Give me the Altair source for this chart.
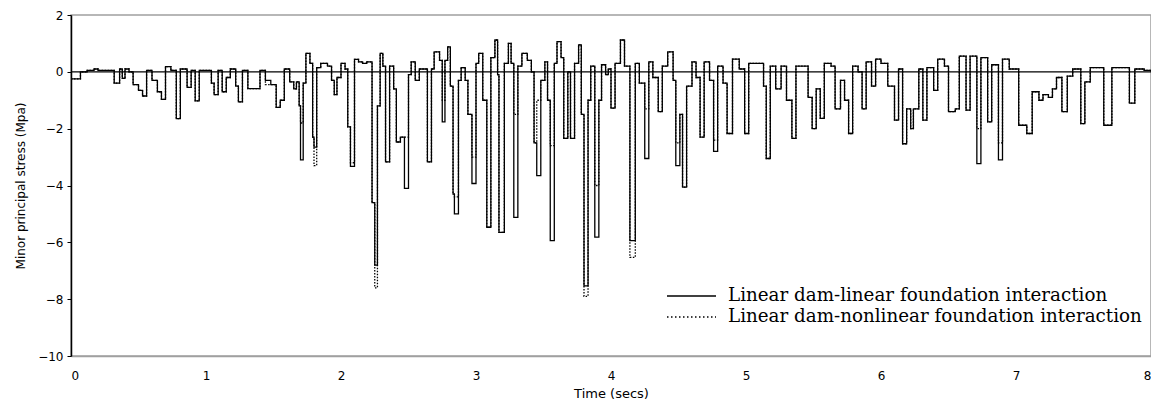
import altair as alt
import pandas as pd

# Time (s) of each step change and the linear-foundation stress (MPa)
TIME = [0.00, 0.07, 0.12, 0.17, 0.20, 0.32, 0.36, 0.38, 0.40, 0.43,
        0.46, 0.50, 0.53, 0.56, 0.60, 0.64, 0.67, 0.70, 0.74, 0.78,
        0.81, 0.86, 0.89, 0.92, 0.95, 1.04, 1.06, 1.09, 1.12, 1.15,
        1.18, 1.22, 1.24, 1.27, 1.31, 1.40, 1.44, 1.48, 1.52, 1.55,
        1.58, 1.62, 1.65, 1.67, 1.69, 1.70, 1.72, 1.74, 1.77, 1.79,
        1.80, 1.82, 1.85, 1.90, 1.93, 1.95, 1.97, 2.00, 2.03, 2.05,
        2.07, 2.10, 2.13, 2.16, 2.19, 2.23, 2.25, 2.27, 2.29, 2.31,
        2.33, 2.36, 2.39, 2.41, 2.44, 2.47, 2.50, 2.52, 2.55, 2.58,
        2.64, 2.67, 2.69, 2.73, 2.75, 2.77, 2.79, 2.81, 2.83, 2.84,
        2.87, 2.89, 2.92, 2.94, 2.97, 3.00, 3.02, 3.05, 3.08, 3.11,
        3.14, 3.16, 3.17, 3.21, 3.24, 3.26, 3.28, 3.31, 3.34, 3.38,
        3.41, 3.43, 3.45, 3.48, 3.51, 3.53, 3.55, 3.58, 3.60, 3.63,
        3.65, 3.68, 3.70, 3.73, 3.76, 3.78, 3.80, 3.83, 3.85, 3.88,
        3.91, 3.93, 3.96, 3.98, 4.00, 4.03, 4.07, 4.10, 4.14, 4.18,
        4.21, 4.25, 4.28, 4.31, 4.35, 4.38, 4.42, 4.46, 4.48, 4.51,
        4.53, 4.56, 4.60, 4.63, 4.66, 4.69, 4.73, 4.76, 4.79, 4.83,
        4.86, 4.90, 4.95, 4.99, 5.02, 5.13, 5.15, 5.18, 5.22, 5.26,
        5.30, 5.34, 5.37, 5.46, 5.49, 5.52, 5.55, 5.58, 5.63, 5.66,
        5.70, 5.73, 5.76, 5.79, 5.83, 5.86, 5.89, 5.93, 5.96, 6.00,
        6.05, 6.10, 6.13, 6.16, 6.19, 6.22, 6.24, 6.28, 6.31, 6.34,
        6.39, 6.42, 6.47, 6.50, 6.55, 6.58, 6.63, 6.66, 6.71, 6.74,
        6.79, 6.82, 6.87, 6.90, 6.95, 7.02, 7.08, 7.12, 7.17, 7.20,
        7.24, 7.27, 7.30, 7.34, 7.38, 7.42, 7.48, 7.51, 7.55, 7.65,
        7.71, 7.84, 7.88, 7.95, 8.00]

LINEAR = [-0.25, 0.00, 0.05, 0.10, 0.05, -0.40, 0.10, -0.23, 0.10, 0.00,
          -0.45, -0.65, -0.85, 0.05, -0.30, -0.70, -0.97, 0.18, 0.05, -1.65,
          0.10, -0.55, 0.05, -1.02, 0.05, -0.40, -0.80, 0.05, -0.70, -0.20,
          0.10, -0.50, -1.06, 0.05, -0.59, 0.05, -0.30, -0.45, -1.25, -1.00,
          0.10, -0.35, -0.60, -0.35, -1.20, -3.10, -0.40, 0.65, 0.30, -2.30,
          -2.65, 0.15, 0.30, 0.20, -0.30, -0.80, -0.20, 0.30, 0.10, -1.94,
          -3.33, 0.44, 0.35, 0.30, 0.35, -4.60, -6.80, -1.20, 0.65, 0.20,
          -3.17, 0.20, -0.60, -2.47, -2.30, -4.10, -0.10, 0.35, -0.30, 0.10,
          -3.17, 0.10, 0.70, 0.40, -1.76, 0.40, 0.88, -0.50, -4.30, -5.00,
          -0.30, 0.15, -0.30, -1.50, -3.93, 0.30, 0.65, -1.00, -5.47, 0.50,
          1.12, -0.10, -5.65, 0.30, 1.00, 0.30, -5.12, 0.20, 0.65, 0.40,
          0.00, -2.50, -3.65, -0.30, 0.35, -1.00, -5.94, 0.30, 1.06, 0.50,
          -2.34, 0.00, -2.34, 0.30, 0.95, -1.50, -7.53, -1.00, 0.20, -5.82,
          -1.00, 0.25, -0.10, 0.10, -1.28, 0.30, 1.12, 0.20, -5.94, 0.30,
          -0.40, -3.05, 0.35, -0.20, -1.40, 0.20, 0.70, -0.30, -3.30, -1.50,
          -4.06, -0.50, 0.35, -0.20, -2.30, 0.35, -0.30, -2.80, 0.20, -0.40,
          -2.17, 0.45, 0.10, -2.17, 0.30, -0.50, -3.05, 0.20, -0.60, 0.20,
          -1.00, -2.34, 0.20, -0.90, -2.00, -0.60, -1.64, 0.30, 0.20, -1.30,
          -0.30, -1.00, -2.17, 0.20, 0.00, -1.30, 0.35, -0.50, 0.45, 0.30,
          -0.50, -1.70, 0.10, -2.53, -1.30, -2.00, -1.30, 0.10, -1.70, 0.15,
          -0.65, 0.45, 0.20, -1.40, -1.30, 0.55, -1.35, 0.55, -3.23, 0.50,
          -1.76, 0.25, -3.10, 0.45, 0.10, -1.88, -2.17, -0.70, -1.00, -0.80,
          -0.90, -0.60, -0.20, -1.40, -0.15, 0.10, -1.82, -0.35, 0.15, -1.88,
          0.15, -1.10, 0.10, 0.05, 0.00]

# Steps where the nonlinear-foundation response differs from the linear one
NONLIN_TIME = [1.44, 1.70, 1.80, 2.07, 2.25, 2.47, 2.75, 2.84, 2.97, 3.28,
               3.45, 3.55, 3.80, 3.88, 4.14, 4.25, 4.48, 4.76, 6.71, 6.87]
NONLIN_VALUE = [-0.45, -1.80, -3.30, -3.20, -7.60, -2.30, -1.00, -4.40, -3.00, -1.50,
                -1.00, -2.60, -7.90, -4.00, -6.53, -1.30, -2.50, -2.40, -2.00, -2.50]

LEGEND_LABELS = ["Linear dam-linear foundation interaction",
                 "Linear dam-nonlinear foundation interaction"]

override = dict(zip(NONLIN_TIME, NONLIN_VALUE))
NONLINEAR = [override.get(t, v) for t, v in zip(TIME, LINEAR)]

df_lin = pd.DataFrame({"t": TIME, "v": LINEAR})
df_non = pd.DataFrame({"t": TIME, "v": NONLINEAR})

FONT = "DejaVu Sans"
W, H = 1080, 341

x_enc = alt.X("t:Q", scale=alt.Scale(domain=[0, 8], nice=False, zero=False),
              axis=alt.Axis(values=list(range(0, 9)), format="d", title="Time (secs)",
                            ticks=False, grid=False, labelFont=FONT, labelFontSize=12,
                            labelColor="black", labelPadding=14,
                            titleFont=FONT, titleFontSize=13, titleFontWeight="normal",
                            titleColor="black", titlePadding=6,
                            domainColor="#a0a0a0", domainWidth=1.5))
y_enc = alt.Y("v:Q", scale=alt.Scale(domain=[-10, 2], nice=False, zero=False),
              axis=alt.Axis(values=list(range(-10, 3, 2)), title="Minor principal stress (Mpa)",
                            grid=False, tickSize=4, tickColor="black", domainColor="black",
                            domainWidth=1.5, labelFont=FONT, labelFontSize=12,
                            labelColor="black", labelPadding=4,
                            titleFont=FONT, titleFontSize=12, titleFontWeight="normal",
                            titleColor="black", titlePadding=10))

lin = alt.Chart(df_lin).mark_line(interpolate="step-after", color="black",
                                  strokeWidth=1.3).encode(x=x_enc, y=y_enc)
non = alt.Chart(df_non).mark_line(interpolate="step-after", color="black",
                                  strokeWidth=1.3, strokeDash=[1.5, 1.5]).encode(x="t:Q", y="v:Q")

zero = alt.Chart(pd.DataFrame({"z": [0]})).mark_rule(color="black", strokeWidth=1.2).encode(y="z:Q")

one = pd.DataFrame({"a": [0]})
leg_solid = alt.Chart(one).mark_rule(color="black", strokeWidth=1.3).encode(
    x=alt.value(596), x2=alt.value(645), y=alt.value(281))
leg_dot = alt.Chart(one).mark_rule(color="black", strokeWidth=1.3, strokeDash=[1.5, 2.5]).encode(
    x=alt.value(596), x2=alt.value(645), y=alt.value(302))
leg_t1 = alt.Chart(one).mark_text(text=LEGEND_LABELS[0], align="left", baseline="middle",
                                  font="DejaVu Serif", fontSize=18.3, color="black").encode(
    x=alt.value(657), y=alt.value(281))
leg_t2 = alt.Chart(one).mark_text(text=LEGEND_LABELS[1], align="left", baseline="middle",
                                  font="DejaVu Serif", fontSize=18.3, color="black").encode(
    x=alt.value(657), y=alt.value(302))

chart = alt.layer(lin, non, zero, leg_solid, leg_dot, leg_t1, leg_t2).properties(
    width=W, height=H,
    padding={"left": 63, "top": 7, "right": 0, "bottom": 44},
    autosize=alt.AutoSizeParams(type="none"),
).configure_view(stroke="#a0a0a0", strokeWidth=1.5)

chart.save("out.html", embed_options={"renderer": "svg", "actions": False})
